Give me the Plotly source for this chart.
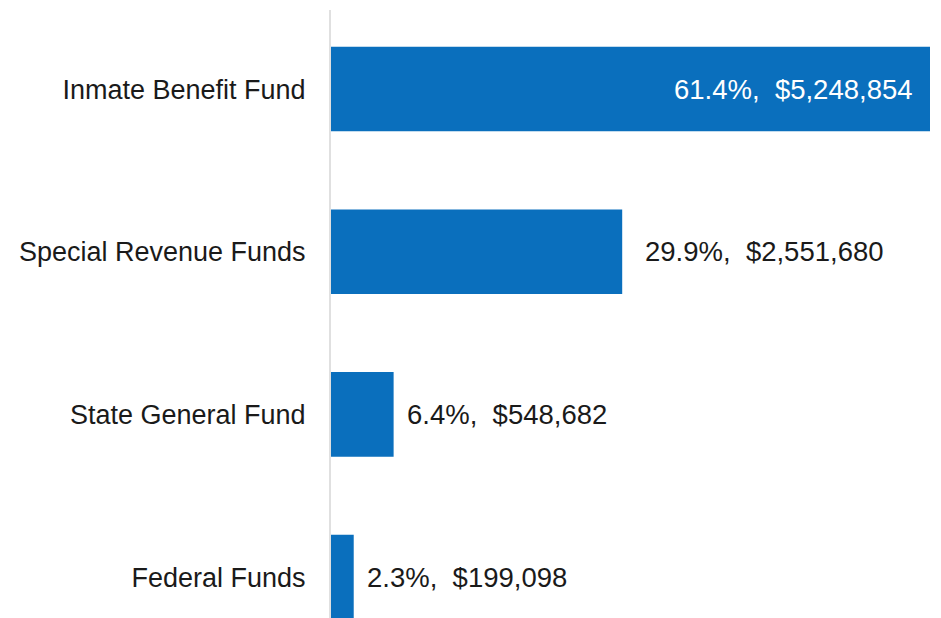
import plotly.graph_objects as go

funds = ["Federal Funds", "State General Fund", "Special Revenue Funds", "Inmate Benefit Fund"]
amounts = [199098, 548682, 2551680, 5248854]
shares = [2.3, 6.4, 29.9, 61.4]

BLUE = "#0A6FBD"
FONT = "Liberation Sans, Arial, sans-serif"

fig = go.Figure(
    data=go.Bar(
        x=amounts,
        y=funds,
        orientation="h",
        marker=dict(color=BLUE, line=dict(width=0)),
        width=0.52,
        hoverinfo="skip",
    )
)

# value labels: inside for the biggest bar, outside for the rest
biggest = max(amounts)
for fund, amt, pct in zip(funds, amounts, shares):
    label = f"{pct:.1f}%,  ${amt:,.0f}"
    inside = amt == biggest
    fig.add_annotation(
        x=amt,
        y=fund,
        text=label,
        showarrow=False,
        xanchor="right" if inside else "left",
        xshift=-15 if inside else (21 if amt > 1e6 else 11),
        font=dict(size=27.5, color="white" if inside else "#1a1a1a", family=FONT),
    )

# the page body has an 8px margin, so margins are trimmed to compensate
fig.update_layout(
    width=941,
    height=618,
    margin=dict(l=323, r=19, t=2, b=0),
    paper_bgcolor="white",
    plot_bgcolor="white",
    showlegend=False,
    font=dict(family=FONT, size=27, color="#1a1a1a"),
    xaxis=dict(
        range=[0, biggest],
        visible=False,
    ),
    yaxis=dict(
        range=[-0.3006, 3.486],
        showline=True,
        linecolor="#E0E0E0",
        linewidth=2,
        showgrid=False,
        ticks="",
        ticklabelstandoff=18,
        tickfont=dict(size=27, color="#1a1a1a", family=FONT),
    ),
)

fig.write_html("out.html")
